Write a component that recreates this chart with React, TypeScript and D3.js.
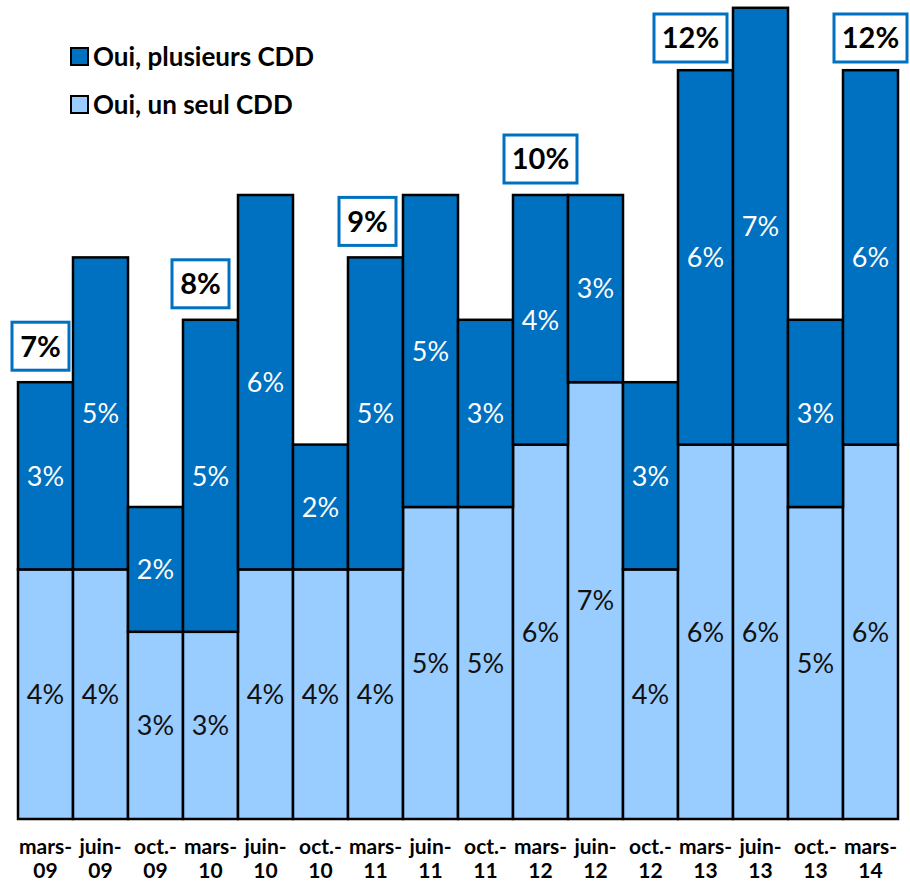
import React from "react";
import * as d3 from "d3";

// stacked bars: share of people with one CDD vs several CDD
const categories = [
  "mars-09", "juin-09", "oct.-09", "mars-10", "juin-10", "oct.-10",
  "mars-11", "juin-11", "oct.-11", "mars-12", "juin-12", "oct.-12",
  "mars-13", "juin-13", "oct.-13", "mars-14",
];
const unSeul = [4, 4, 3, 3, 4, 4, 4, 5, 5, 6, 7, 4, 6, 6, 5, 6];
const plusieurs = [3, 5, 2, 5, 6, 2, 5, 5, 3, 4, 3, 3, 6, 7, 3, 6];
// boxed totals shown above some bars
const totalLabels = [
  { cat: "mars-09", label: "7%" },
  { cat: "mars-10", label: "8%" },
  { cat: "mars-11", label: "9%" },
  { cat: "mars-12", label: "10%" },
  { cat: "mars-13", label: "12%" },
  { cat: "mars-14", label: "12%" },
];
const seriesNames = ["Oui, plusieurs CDD", "Oui, un seul CDD"];

const DARK = "#0070C0";
const LIGHT = "#99CCFF";
const FONT = "Lato, 'Open Sans', sans-serif";

// little horizontal shifts of the boxes (layout only)
const boxNudge: Record<string, number> = {
  "mars-09": -5, "mars-10": -10, "mars-11": -8, "mars-13": -15,
};

export default function App() {
  const width = 910;
  const height = 882;
  const baseY = 819;

  const x = d3.scaleBand<string>().domain(categories).range([18, 898]).padding(0);
  const y = d3.scaleLinear().domain([0, 13]).range([baseY, baseY - 13 * 62.4]);

  const rows = categories.map((c, i) => ({ cat: c, a: unSeul[i], b: plusieurs[i] }));
  const stacked = d3.stack<any>().keys(["a", "b"])(rows);

  return (
    <svg width={width} height={height} style={{ position: "absolute", left: 0, top: 0, background: "#fff" }}
      fontFamily={FONT}>
      {stacked.map((layer, li) => (
        <g key={layer.key}>
          {layer.map((d, i) => {
            const cat = categories[i];
            const x0 = x(cat)!;
            const y0 = y(d[1]);
            const h = y(d[0]) - y(d[1]);
            const v = d[1] - d[0];
            return (
              <g key={cat}>
                <rect x={x0} y={y0} width={x.bandwidth()} height={h}
                  fill={li === 0 ? LIGHT : DARK} stroke="#000" strokeWidth={2.5} />
                <text x={x0 + x.bandwidth() / 2} y={y0 + h / 2} dy="0.36em" textAnchor="middle"
                  fontSize={27} fill={li === 0 ? "#111" : "#fff"}>{v}%</text>
              </g>
            );
          })}
        </g>
      ))}

      {totalLabels.map((t) => {
        const i = categories.indexOf(t.cat);
        const tot = unSeul[i] + plusieurs[i];
        const cx = x(t.cat)! + x.bandwidth() / 2 + (boxNudge[t.cat] || 0);
        const bw = t.label.length > 2 ? 73 : 57;
        const bh = 48;
        const by = Math.max(y(tot) - 12 - bh, 14);
        return (
          <g key={t.cat}>
            <rect x={cx - bw / 2} y={by} width={bw} height={bh} fill="#fff" stroke={DARK} strokeWidth={3} />
            <text x={cx} y={by + bh / 2} dy="0.36em" textAnchor="middle" fontSize={29}
              fontWeight="bold" fill="#000">{t.label}</text>
          </g>
        );
      })}

      {categories.map((c) => {
        const k = c.lastIndexOf("-");
        const cx = x(c)! + x.bandwidth() / 2;
        return (
          <text key={c} x={cx} textAnchor="middle" fontSize={21} fontWeight="bold" fill="#000">
            <tspan x={cx} y={854}>{c.slice(0, k + 1)}</tspan>
            <tspan x={cx} y={878}>{c.slice(k + 1)}</tspan>
          </text>
        );
      })}

      {seriesNames.map((name, i) => (
        <g key={name} transform={`translate(71, ${48 + i * 48})`}>
          <rect width={17} height={17} fill={i === 0 ? DARK : LIGHT} stroke="#000" strokeWidth={2} />
          <text x={22} y={18} fontSize={26} fontWeight="bold" fill="#000">{name}</text>
        </g>
      ))}
    </svg>
  );
}
